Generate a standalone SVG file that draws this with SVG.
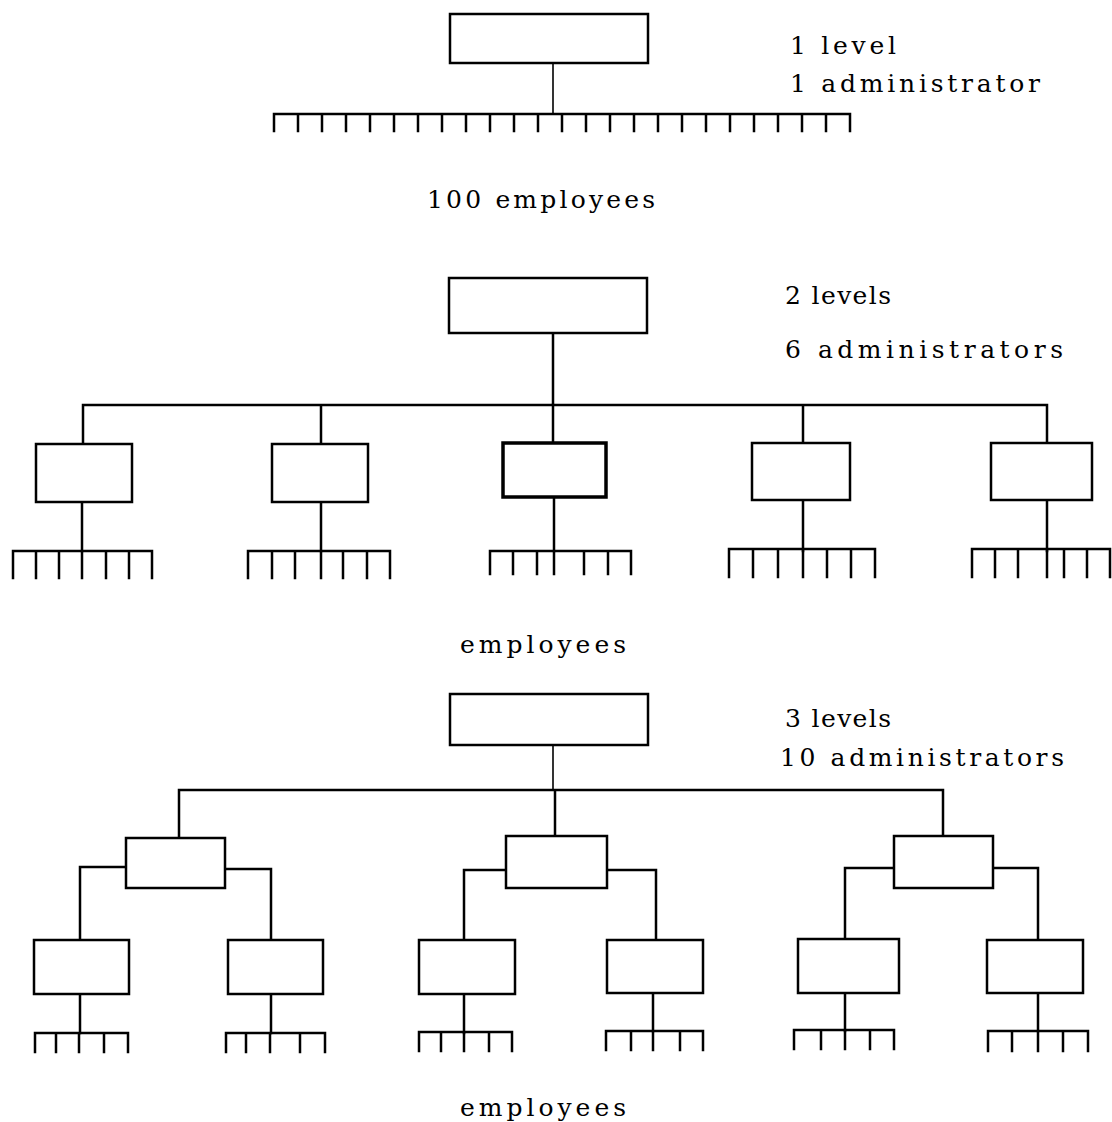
<svg xmlns="http://www.w3.org/2000/svg" width="1112" height="1122" viewBox="0 0 1112 1122">
  <style>
    .box { fill: #ffffff; stroke: #000000; stroke-width: 2.5; }
    .heavy { stroke-width: 3.5; }
    .ln { fill: none; stroke: #000000; stroke-width: 2.5; stroke-linecap: square; }
    .thin { stroke-width: 1.6; }
    .lbl { font-family: "DejaVu Serif", "Liberation Serif", serif; font-size: 25px; fill: #000000; }
  </style>
  <rect width="1112" height="1122" fill="#ffffff"/>

  <!-- ===== One level: a single administrator over 100 employees ===== -->
  <g id="connectors-one-level">
    <path class="ln thin" d="M553 63 V114"/>
    <path class="ln" d="M274 114 H850 M274 114 V131 M298 114 V131 M322 114 V131 M346 114 V131 M370 114 V131 M394 114 V131 M418 114 V131 M442 114 V131 M466 114 V131 M490 114 V131 M514 114 V131 M538 114 V131 M562 114 V131 M586 114 V131 M610 114 V131 M634 114 V131 M658 114 V131 M682 114 V131 M706 114 V131 M730 114 V131 M754 114 V131 M778 114 V131 M802 114 V131 M826 114 V131 M850 114 V131"/>
  </g>
  <g id="n1-top"><rect class="box" x="450" y="14" width="198" height="49"/></g>
  <g id="n1-labels">
    <text class="lbl" x="790" y="54" textLength="106" lengthAdjust="spacing">1 level</text>
    <text class="lbl" x="790" y="92" textLength="250" lengthAdjust="spacing">1 administrator</text>
    <text class="lbl" x="427" y="208" textLength="228" lengthAdjust="spacing">100 employees</text>
  </g>

  <!-- ===== Two levels: six administrators ===== -->
  <g id="connectors-two-levels">
    <path class="ln" d="M553 333 V405 M83 405 H1047 M83 405 V443 M321 405 V443 M803 405 V443 M1047 405 V443"/>
    <path class="ln heavy" d="M553 405 V443"/>
    <path class="ln" d="M82 502 V551 M321 502 V551 M803 500 V551 M1047 500 V551"/>
    <path class="ln heavy" d="M554 497 V551"/>
    <!-- employee combs, seven per group -->
    <path class="ln" d="M13 551 H152 M13 551 V578 M36 551 V578 M59 551 V578 M82 551 V578 M106 551 V578 M129 551 V578 M152 551 V578"/>
    <path class="ln" d="M248 551 H390 M248 551 V578 M272 551 V578 M295 551 V578 M321 551 V578 M343 551 V578 M367 551 V578 M390 551 V578"/>
    <path class="ln heavy" d="M490 551 H631 M490 551 V574 M513 551 V574 M537 551 V574 M554 551 V574 M584 551 V574 M608 551 V574 M631 551 V574"/>
    <path class="ln" d="M729 549 H875 M729 549 V577 M753 549 V577 M778 549 V577 M803 549 V577 M827 549 V577 M851 549 V577 M875 549 V577"/>
    <path class="ln" d="M972 549 H1110 M972 549 V577 M995 549 V577 M1018 549 V577 M1047 549 V577 M1064 549 V577 M1087 549 V577 M1110 549 V577"/>
  </g>
  <g id="n2-top"><rect class="box" x="449" y="278" width="198" height="55"/></g>
  <g id="n2-a"><rect class="box" x="36" y="444" width="96" height="58"/></g>
  <g id="n2-b"><rect class="box" x="272" y="444" width="96" height="58"/></g>
  <g id="n2-c"><rect class="box heavy" x="503" y="443" width="103" height="54"/></g>
  <g id="n2-d"><rect class="box" x="752" y="443" width="98" height="57"/></g>
  <g id="n2-e"><rect class="box" x="991" y="443" width="101" height="57"/></g>
  <g id="n2-labels">
    <text class="lbl" x="785" y="304" textLength="106" lengthAdjust="spacing">2 levels</text>
    <text class="lbl" x="785" y="358" textLength="278" lengthAdjust="spacing">6 administrators</text>
    <text class="lbl" x="460" y="653" textLength="166" lengthAdjust="spacing">employees</text>
  </g>

  <!-- ===== Three levels: ten administrators ===== -->
  <g id="connectors-three-levels">
    <path class="ln thin" d="M553 745 V790"/>
    <path class="ln heavy" d="M179 790 H943 M179 790 V838 M555 790 V836 M943 790 V836"/>
    <!-- middle tier to bottom tier -->
    <path class="ln" d="M126 867 H80 V940 M225 869 H271 V940"/>
    <path class="ln" d="M506 870 H464 V940 M607 870 H656 V940"/>
    <path class="ln" d="M894 868 H845 V940 M993 868 H1038 V940"/>
    <!-- bottom tier to employees -->
    <path class="ln" d="M80 994 V1033 M271 994 V1033 M464 994 V1033 M653 993 V1031 M845 993 V1031 M1038 993 V1031"/>
    <!-- employee combs, five per group -->
    <path class="ln" d="M35 1033 H128 M35 1033 V1052 M56 1033 V1052 M79 1033 V1052 M104 1033 V1052 M128 1033 V1052"/>
    <path class="ln" d="M226 1033 H325 M226 1033 V1052 M246 1033 V1052 M270 1033 V1052 M300 1033 V1052 M325 1033 V1052"/>
    <path class="ln" d="M419 1032 H512 M419 1032 V1051 M441 1032 V1051 M464 1032 V1051 M489 1032 V1051 M512 1032 V1051"/>
    <path class="ln" d="M606 1031 H703 M606 1031 V1050 M631 1031 V1050 M653 1031 V1050 M680 1031 V1050 M703 1031 V1050"/>
    <path class="ln" d="M794 1030 H894 M794 1030 V1049 M821 1030 V1049 M845 1030 V1049 M870 1030 V1049 M894 1030 V1049"/>
    <path class="ln" d="M988 1031 H1088 M988 1031 V1051 M1012 1031 V1051 M1038 1031 V1051 M1063 1031 V1051 M1088 1031 V1051"/>
  </g>
  <g id="n3-top"><rect class="box" x="450" y="694" width="198" height="51"/></g>
  <g id="n3-mid-a"><rect class="box" x="126" y="838" width="99" height="50"/></g>
  <g id="n3-mid-b"><rect class="box" x="506" y="836" width="101" height="52"/></g>
  <g id="n3-mid-c"><rect class="box" x="894" y="836" width="99" height="52"/></g>
  <g id="n3-leaf-1"><rect class="box" x="34" y="940" width="95" height="54"/></g>
  <g id="n3-leaf-2"><rect class="box" x="228" y="940" width="95" height="54"/></g>
  <g id="n3-leaf-3"><rect class="box" x="419" y="940" width="96" height="54"/></g>
  <g id="n3-leaf-4"><rect class="box" x="607" y="940" width="96" height="53"/></g>
  <g id="n3-leaf-5"><rect class="box" x="798" y="939" width="101" height="54"/></g>
  <g id="n3-leaf-6"><rect class="box" x="987" y="940" width="96" height="53"/></g>
  <g id="n3-labels">
    <text class="lbl" x="785" y="727" textLength="106" lengthAdjust="spacing">3 levels</text>
    <text class="lbl" x="780" y="766" textLength="284" lengthAdjust="spacing">10 administrators</text>
    <text class="lbl" x="460" y="1116" textLength="166" lengthAdjust="spacing">employees</text>
  </g>
</svg>
